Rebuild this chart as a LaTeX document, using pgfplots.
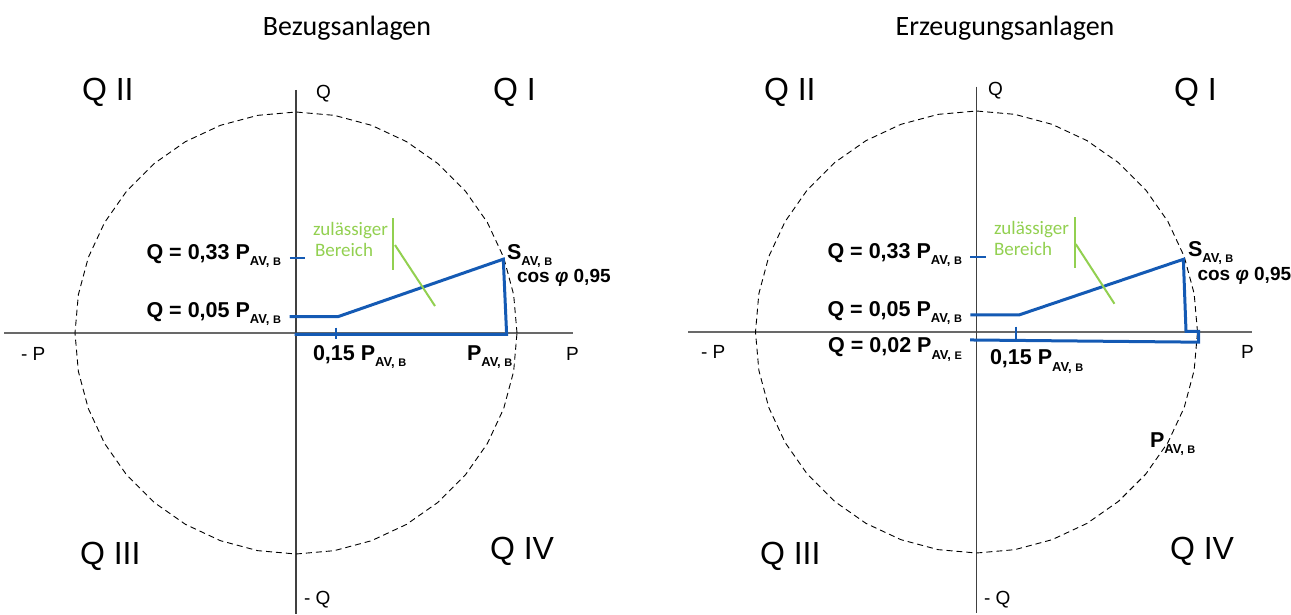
\documentclass[border=0pt]{standalone}
\usepackage{fontspec}
\setmainfont{Liberation Sans}
\newfontfamily\calibri{Carlito}
\usepackage{pgfplots}
\usepackage{pgfplotstable}
\pgfplotsset{compat=1.18}

\definecolor{lineblue}{RGB}{20,90,180}
\definecolor{zgreen}{RGB}{146,208,80}
\definecolor{axgray}{RGB}{105,105,105}

\newcommand\fs[1]{\fontsize{#1}{#1}\selectfont}
\newcommand\av[1]{\raisebox{-6.5pt}{\fs{13}AV, \fs{11}#1}}

% unit circle, 10 degree steps
\pgfplotstableread{
x y
1 0
0.9848 0.1736
0.9397 0.3420
0.8660 0.5
0.7660 0.6428
0.6428 0.7660
0.5 0.8660
0.3420 0.9397
0.1736 0.9848
0 1
-0.1736 0.9848
-0.3420 0.9397
-0.5 0.8660
-0.6428 0.7660
-0.7660 0.6428
-0.8660 0.5
-0.9397 0.3420
-0.9848 0.1736
-1 0
-0.9848 -0.1736
-0.9397 -0.3420
-0.8660 -0.5
-0.7660 -0.6428
-0.6428 -0.7660
-0.5 -0.8660
-0.3420 -0.9397
-0.1736 -0.9848
0 -1
0.1736 -0.9848
0.3420 -0.9397
0.5 -0.8660
0.6428 -0.7660
0.7660 -0.6428
0.8660 -0.5
0.9397 -0.3420
0.9848 -0.1736
1 0
}\circletab

\pgfplotsset{
  pq/.style={hide axis, clip=false, anchor=origin, x=221pt, y=221pt,
    xmin=-1.35, xmax=1.3, ymin=-1.3, ymax=1.15},
  pcircle/.style={black, line width=0.9pt, dash pattern=on 6pt off 4pt},
  haxis/.style={axgray, line width=1.8pt},
  vaxis/.style={black!75, line width=1.1pt},
  region/.style={lineblue, line width=3pt, line join=miter},
  tick/.style={lineblue, line width=2pt},
  green/.style={zgreen, line width=2pt},
}

\begin{document}
\begin{tikzpicture}
\path[use as bounding box] (0,0) rectangle (1291pt,-614pt);

% ---- Bezugsanlagen
\begin{axis}[pq, at={(296pt,-333pt)}]
\addplot[haxis] coordinates {(-1.321,0) (1.253,0)};
\addplot[vaxis] coordinates {(0,1.10) (0,-1.27)};
\addplot[pcircle] table {\circletab};
\addplot[region] coordinates {(-0.029,0.074) (0.190,0.074) (0.938,0.334) (0.953,-0.006) (-0.006,-0.006)};
\addplot[tick] coordinates {(-0.028,0.340) (0.041,0.340)};
\addplot[tick] coordinates {(0.181,0.024) (0.181,-0.029)};
\addplot[green] coordinates {(0.440,0.519) (0.440,0.285)};
\addplot[green] coordinates {(0.448,0.398) (0.629,0.122)};
\end{axis}

% ---- Erzeugungsanlagen
\begin{axis}[pq, at={(976.5pt,-332pt)}]
\addplot[haxis] coordinates {(-1.305,0) (1.246,0)};
\addplot[vaxis] coordinates {(0,1.11) (0,-1.27)};
\addplot[pcircle] table {\circletab};
\addplot[region] coordinates {(-0.028,0.077) (0.192,0.077) (0.936,0.329) (0.948,0.003) (1.005,0.003) (1.005,-0.046) (-0.029,-0.036)};
\addplot[tick] coordinates {(-0.028,0.340) (0.043,0.340)};
\addplot[tick] coordinates {(0.179,0.024) (0.179,-0.032)};
\addplot[green] coordinates {(0.445,0.52) (0.445,0.29)};
\addplot[green] coordinates {(0.449,0.398) (0.624,0.128)};
\end{axis}

\begin{scope}[every node/.style={inner sep=0pt, outer sep=0pt}]
% titles
\node[anchor=base] at (347pt,-35pt) {\calibri\fs{28}Bezugsanlagen};
\node[anchor=base] at (1005pt,-35pt) {\calibri\fs{28}Erzeugungsanlagen};

% left panel text
\node[anchor=base west] at (82pt,-100.5pt) {\fs{32}Q II};
\node[anchor=base west] at (493pt,-100.5pt) {\fs{32}Q I};
\node[anchor=base west] at (80pt,-564.5pt) {\fs{32}Q III};
\node[anchor=base west] at (490pt,-559.5pt) {\fs{32}Q IV};
\node[anchor=base west] at (316pt,-98pt) {\fs{19}Q};
\node[anchor=base west] at (304pt,-604pt) {\fs{19}- Q};
\node[anchor=base west] at (21pt,-360pt) {\fs{19}- P};
\node[anchor=base west] at (566pt,-360pt) {\fs{19}P};
\node[anchor=base east] at (281pt,-259pt) {\bfseries\fs{21.5}Q = 0,33 P\av{B}};
\node[anchor=base east] at (281pt,-317pt) {\bfseries\fs{21.5}Q = 0,05 P\av{B}};
\node[anchor=base west] at (313pt,-360pt) {\bfseries\fs{21.5}0,15 P\av{B}};
\node[anchor=base west] at (467pt,-360pt) {\bfseries\fs{21.5}P\av{B}};
\node[anchor=base west] at (507pt,-259pt) {\bfseries\fs{21.5}S\av{B}};
\node[anchor=base west] at (517pt,-282pt) {\bfseries\fs{19}cos \textit{φ} 0,95};
\node[anchor=base west, text=zgreen] at (313pt,-235pt) {\calibri\fs{19}zulässiger};
\node[anchor=base west, text=zgreen] at (315pt,-256pt) {\calibri\fs{19}Bereich};

% right panel text
\node[anchor=base west] at (764pt,-100.5pt) {\fs{32}Q II};
\node[anchor=base west] at (1174pt,-100.5pt) {\fs{32}Q I};
\node[anchor=base west] at (760pt,-564.5pt) {\fs{32}Q III};
\node[anchor=base west] at (1170pt,-559.5pt) {\fs{32}Q IV};
\node[anchor=base west] at (988pt,-95pt) {\fs{19}Q};
\node[anchor=base west] at (984pt,-604pt) {\fs{19}- Q};
\node[anchor=base west] at (701pt,-358.5pt) {\fs{19}- P};
\node[anchor=base west] at (1241pt,-358pt) {\fs{19}P};
\node[anchor=base east] at (962pt,-258pt) {\bfseries\fs{21.5}Q = 0,33 P\av{B}};
\node[anchor=base east] at (962pt,-316pt) {\bfseries\fs{21.5}Q = 0,05 P\av{B}};
\node[anchor=base east] at (962pt,-352.5pt) {\bfseries\fs{21.5}Q = 0,02 P\av{E}};
\node[anchor=base west] at (990pt,-364.5pt) {\bfseries\fs{21.5}0,15 P\av{B}};
\node[anchor=base west] at (1188pt,-256pt) {\bfseries\fs{21.5}S\av{B}};
\node[anchor=base west] at (1197.5pt,-280pt) {\bfseries\fs{19}cos \textit{φ} 0,95};
\node[anchor=base west] at (1150pt,-447pt) {\bfseries\fs{21.5}P\av{B}};
\node[anchor=base west, text=zgreen] at (994pt,-234pt) {\calibri\fs{19}zulässiger};
\node[anchor=base west, text=zgreen] at (994pt,-255pt) {\calibri\fs{19}Bereich};
\end{scope}
\end{tikzpicture}
\end{document}
